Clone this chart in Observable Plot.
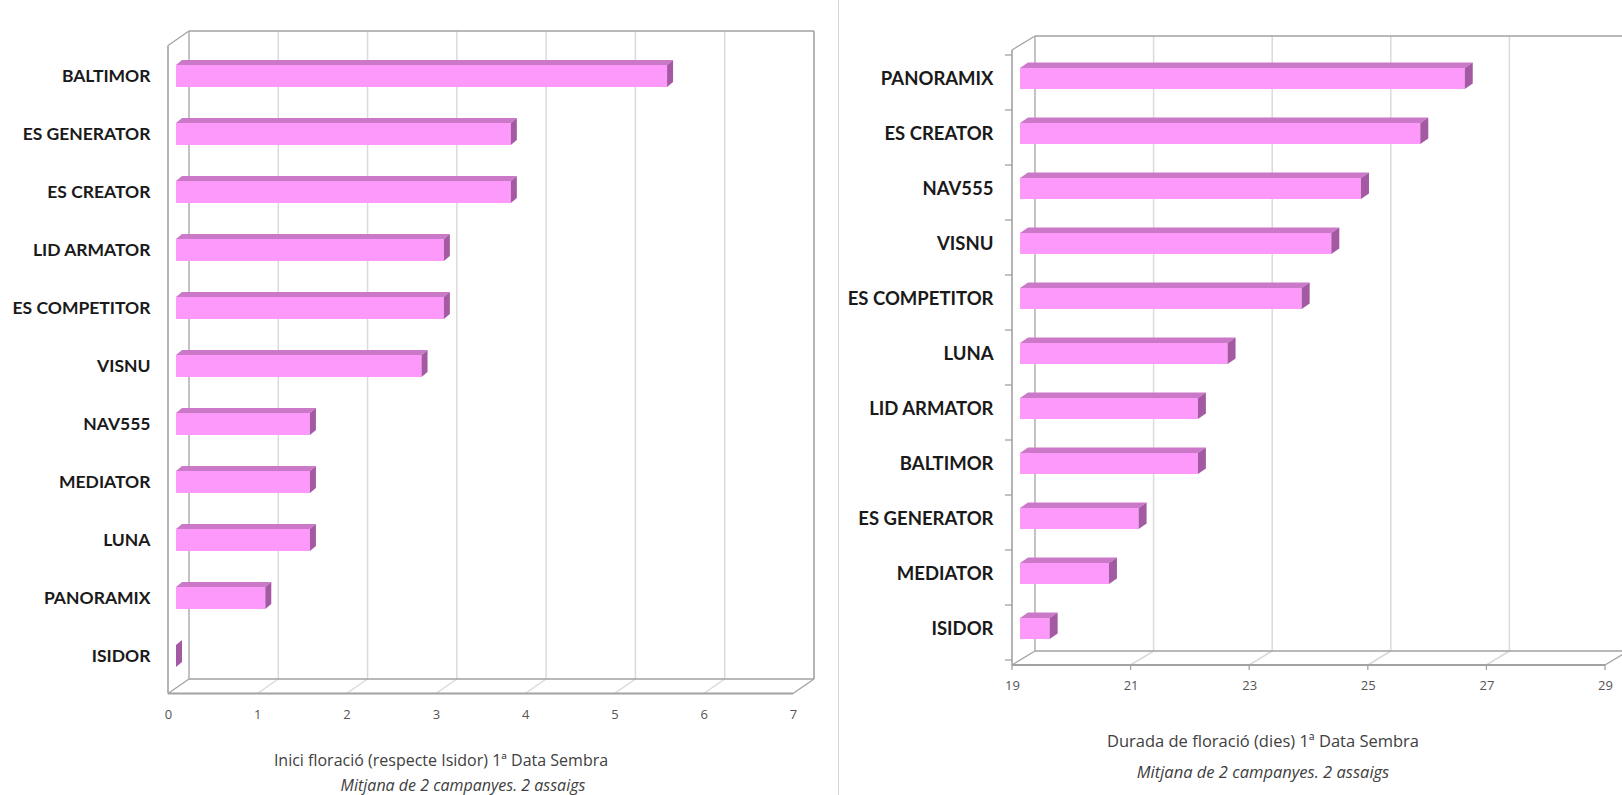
<!DOCTYPE html>
<html>
<head>
<meta charset="utf-8">
<script src="https://cdn.jsdelivr.net/npm/d3@7"></script>
<script src="https://cdn.jsdelivr.net/npm/@observablehq/plot@0.6"></script>
<style>
html,body{margin:0;padding:0;background:#fff;}
body{position:relative;width:1622px;height:795px;overflow:hidden;}
#left{position:absolute;left:0;top:0;width:838px;}
#right{position:absolute;left:838px;top:0;width:784px;}
#divider{position:absolute;left:838px;top:0;width:1px;height:795px;background:#d6d6d6;}
.cap{position:absolute;transform:translate(-50%,-50%);white-space:nowrap;font-family:"Open Sans",sans-serif;font-size:16.5px;line-height:18px;color:#404040;}
.cap.sm{font-size:16px;}
.cap.it{font-style:italic;}
svg [aria-label="y-axis tick label"] text{font-family:Lato,sans-serif;font-weight:700;fill:#1a1a1a;}
#left svg [aria-label="y-axis tick label"] text{font-size:17.5px;}
#right svg [aria-label="y-axis tick label"] text{font-size:18.5px;}
svg [aria-label="x-axis tick label"] text{font-family:"Open Sans",sans-serif;font-size:13px;fill:#555;}
</style>
</head>
<body>
<div id="divider"></div>
<div id="left"></div>
<div id="right"></div>
<div class="cap sm" style="left:441px;top:760px">Inici floració (respecte Isidor) 1ª Data Sembra</div>
<div class="cap sm it" style="left:463px;top:785px">Mitjana de 2 campanyes. 2 assaigs</div>
<div class="cap" style="left:1263px;top:741px">Durada de floració (dies) 1ª Data Sembra</div>
<div class="cap it" style="left:1263px;top:772px">Mitjana de 2 campanyes. 2 assaigs</div>
<script>
// ---- data ----
const leftCategories = ["BALTIMOR","ES GENERATOR","ES CREATOR","LID ARMATOR","ES COMPETITOR","VISNU","NAV555","MEDIATOR","LUNA","PANORAMIX","ISIDOR"];
const leftValues = [5.5,3.75,3.75,3.0,3.0,2.75,1.5,1.5,1.5,1.0,0];
const leftTicks = [0,1,2,3,4,5,6,7];
const leftGrid = [1,2,3,4,5,6];

const rightCategories = ["PANORAMIX","ES CREATOR","NAV555","VISNU","ES COMPETITOR","LUNA","LID ARMATOR","BALTIMOR","ES GENERATOR","MEDIATOR","ISIDOR"];
const rightValues = [26.5,25.75,24.75,24.25,23.75,22.5,22.0,22.0,21.0,20.5,19.5];
const rightTicks = [19,21,23,25,27,29];
const rightGrid = [21,23,25,27];

const FRONT = "#fc99fa", TOP = "#cc78c9", SIDE = "#a45aa3", FRAME = "#a2a2a2", GRID = "#dadada";

function seg(g, x1, y1, x2, y2, stroke, w) {
  g.append("line").attr("x1", x1).attr("y1", y1).attr("x2", x2).attr("y2", y2)
    .attr("stroke", stroke).attr("stroke-width", w);
}

// walls, floor, gridlines drawn from the plot's own scales
function frameMark(cfg) {
  return (index, scales) => {
    const x = scales.x, y = scales.y;
    const g = d3.create("svg:g");
    const [d0, d1] = cfg.domain;
    const [yTop, yBot] = y.range();
    const F = cfg.front, B = cfg.back;
    const xf = v => x(v) + F[0], xb = v => x(v) + B[0];
    const fTop = yTop + F[1], fBot = yBot + F[1], bTop = yTop + B[1], bBot = yBot + B[1];
    for (const t of cfg.grid) seg(g, xb(t), bTop, xb(t), bBot, GRID, 1.5);
    for (const t of cfg.ticks) if (t !== d0 && t !== d1) seg(g, xb(t), bBot, xf(t), fBot, GRID, 1.5);
    seg(g, xf(d0), fTop, xf(d0), fBot, FRAME, 1.6);
    seg(g, xb(d0), bTop, xb(d0), bBot, FRAME, 1.3);
    seg(g, xf(d0), fTop, xb(d0), bTop, FRAME, 1.3);
    seg(g, xb(d0), bTop, xb(d1), bTop, FRAME, 1.6);
    seg(g, xb(d1), bTop, xb(d1), bBot, FRAME, 1.6);
    seg(g, xf(d0), fBot, xf(d1), fBot, FRAME, 1.8);
    seg(g, xb(d0), bBot, xb(d1), bBot, FRAME, 1.6);
    seg(g, xf(d0), fBot, xb(d0), bBot, FRAME, 1.3);
    seg(g, xf(d1), fBot, xb(d1), bBot, FRAME, 1.3);
    if (cfg.catTicks) {
      const bw = y.bandwidth();
      const dom = y.domain();
      const bounds = dom.map(c => y(c)).concat([y(dom[dom.length - 1]) + bw]);
      for (const b of bounds) seg(g, xf(d0) - 7, b + F[1], xf(d0), b + F[1], FRAME, 1.3);
      for (const t of cfg.ticks) seg(g, xf(t), fBot, xf(t), fBot + 5, FRAME, 1.3);
    }
    return g.node();
  };
}

// top and side faces of the 3D bars
function facesMark(data, cfg) {
  return (index, scales) => {
    const x = scales.x, y = scales.y;
    const g = d3.create("svg:g");
    const bw = y.bandwidth();
    const [ddx, ddy] = cfg.depth;
    const xl = x(cfg.domain[0]);
    for (const d of data) {
      const top = y(d.cat) + cfg.inset, bot = y(d.cat) + bw - cfg.inset;
      const xr = x(d.value);
      g.append("path").attr("fill", TOP)
        .attr("d", `M${xl},${top}L${xr},${top}L${xr + ddx},${top + ddy}L${xl + ddx},${top + ddy}Z`);
      g.append("path").attr("fill", SIDE)
        .attr("d", `M${xr},${top}L${xr + ddx},${top + ddy}L${xr + ddx},${bot + ddy}L${xr},${bot}Z`);
    }
    return g.node();
  };
}

function panel(cfg) {
  const data = cfg.cats.map((c, i) => ({cat: c, value: cfg.vals[i]}));
  const x0 = cfg.domain[0];
  return Plot.plot({
    width: cfg.width, height: cfg.height,
    marginLeft: cfg.marginLeft, marginRight: 0, marginTop: cfg.yRange[0],
    marginBottom: cfg.height - (cfg.yRange[1] + cfg.front[1]),
    style: {background: "transparent", overflow: "visible", maxWidth: "none"},
    x: {domain: cfg.domain, range: cfg.xRange, label: null},
    y: {type: "band", domain: cfg.cats, range: cfg.yRange, padding: 0, label: null},
    marks: [
      frameMark(cfg),
      Plot.barX(data, {x1: () => x0, x2: "value", y: "cat", insetTop: cfg.inset, insetBottom: cfg.inset, fill: FRONT}),
      facesMark(data, cfg),
      Plot.axisY({tickSize: 0, tickPadding: 0, label: null, fontWeight: 700}),
      Plot.axisX({ticks: cfg.ticks, tickSize: 0, tickPadding: cfg.tickPad, dx: cfg.front[0], label: null, tickFormat: d => String(d)})
    ]
  });
}

document.getElementById("left").append(panel({
  cats: leftCategories, vals: leftValues, ticks: leftTicks, grid: leftGrid,
  domain: [0, 7], width: 838, height: 735, marginLeft: 150,
  xRange: [176, 801], yRange: [41.5, 689.5],
  front: [-8, 4], back: [13, -10.5], depth: [6, -5], inset: 18, tickPad: 16, catTicks: false
}));

document.getElementById("right").append(panel({
  cats: rightCategories, vals: rightValues, ticks: rightTicks, grid: rightGrid,
  domain: [19, 29], width: 784, height: 705, marginLeft: 155,
  xRange: [182, 775], yRange: [46, 661],
  front: [-8, 4], back: [15, -10], depth: [8, -5.5], inset: 17, tickPad: 15, catTicks: true
}));
</script>
</body>
</html>
